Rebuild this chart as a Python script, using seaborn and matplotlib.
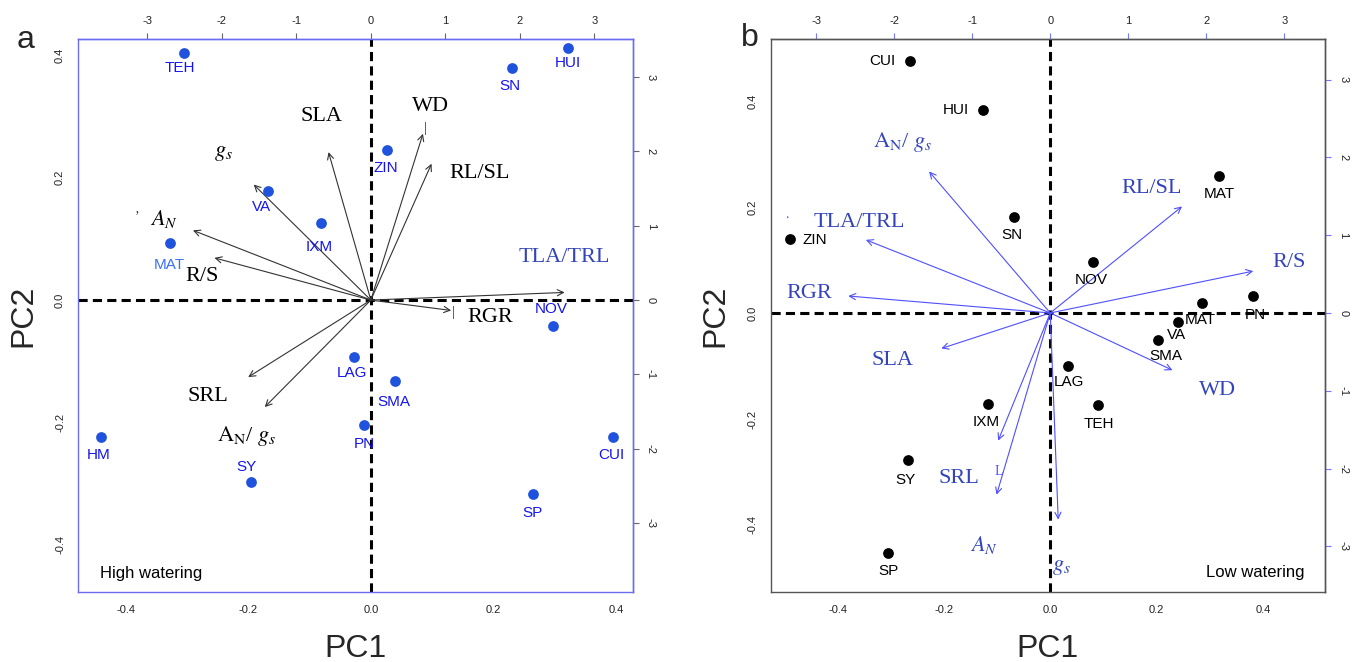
import matplotlib
matplotlib.use("Agg")
import matplotlib.pyplot as plt
import matplotlib.ticker as mticker
import numpy as np
import pandas as pd
import seaborn as sns

# ---------------- data: panel a (High watering) ----------------
a_species = ["TEH", "HUI", "SN", "ZIN", "VA", "IXM", "MAT", "NOV", "LAG", "SMA",
             "PN", "HM", "CUI", "SY", "SP"]
a_pc1 = [-0.304, 0.322, 0.230, 0.026, -0.168, -0.081, -0.328, 0.297, -0.028, 0.039,
         -0.011, -0.440, 0.395, -0.196, 0.265]
a_pc2 = [0.404, 0.413, 0.380, 0.245, 0.179, 0.126, 0.094, -0.042, -0.093, -0.133,
         -0.204, -0.224, -0.224, -0.298, -0.318]
a_traits = ["SLA", "WD", "RL/SL", "gs", "AN", "R/S", "TLA/TRL", "RGR", "SRL", "AN/gs"]
a_load1 = [-0.069, 0.085, 0.099, -0.191, -0.290, -0.255, 0.316, 0.131, -0.200, -0.173]
a_load2 = [0.242, 0.272, 0.223, 0.189, 0.114, 0.069, 0.0125, -0.017, -0.126, -0.175]

# ---------------- data: panel b (Low watering) ----------------
b_species = ["CUI", "HUI", "MAT", "SN", "ZIN", "NOV", "MAT", "PN", "VA", "SMA",
             "LAG", "IXM", "TEH", "SY", "SP"]
b_pc1 = [-0.264, -0.126, 0.317, -0.069, -0.490, 0.080, 0.285, 0.381, 0.240, 0.203,
         0.033, -0.118, 0.090, -0.268, -0.305]
b_pc2 = [0.476, 0.383, 0.258, 0.182, 0.140, 0.096, 0.019, 0.032, -0.017, -0.051,
         -0.100, -0.171, -0.174, -0.278, -0.453]
b_traits = ["AN/gs", "TLA/TRL", "RGR", "RL/SL", "R/S", "SLA", "WD", "SRL", "AN", "gs"]
b_load1 = [-0.228, -0.347, -0.380, 0.248, 0.382, -0.205, 0.230, -0.098, -0.101, 0.015]
b_load2 = [0.267, 0.138, 0.032, 0.201, 0.079, -0.067, -0.108, -0.241, -0.343, -0.390]

axis_ticks = [-0.4, -0.2, 0.0, 0.2, 0.4]
sec_ticks = [-3, -2, -1, 0, 1, 2, 3]

trait_text = {
    "SLA": "SLA", "WD": "WD", "RL/SL": "RL/SL", "R/S": "R/S", "TLA/TRL": "TLA/TRL",
    "RGR": "RGR", "SRL": "SRL", "gs": r"$g_s$", "AN": r"$A_N$",
    "AN/gs": r"$\mathrm{A_N}$/ $g_s$",
}

# ---------------- layout (label positions, data units) ----------------
a_species_lab = [(-0.311, 0.379), (0.322, 0.388), (0.227, 0.350), (0.025, 0.216),
                 (-0.178, 0.153), (-0.085, 0.087), (-0.329, 0.057), (0.294, -0.015),
                 (-0.030, -0.119), (0.038, -0.167), (-0.011, -0.235), (-0.444, -0.253),
                 (0.393, -0.253), (-0.202, -0.273), (0.263, -0.349)]
a_trait_lab = [(-0.080, 0.300), (0.097, 0.317), (0.177, 0.207), (-0.241, 0.239),
               (-0.338, 0.133), (-0.276, 0.039), (0.315, 0.070), (0.195, -0.028),
               (-0.265, -0.158), (-0.203, -0.222)]
b_species_lab = [(-0.315, 0.475), (-0.177, 0.383), (0.318, 0.224), (-0.072, 0.148),
                 (-0.443, 0.138), (0.078, 0.063), (0.283, -0.0125), (0.385, -0.004),
                 (0.237, -0.042), (0.218, -0.082), (0.035, -0.130), (-0.120, -0.205),
                 (0.092, -0.209), (-0.273, -0.316), (-0.305, -0.487)]
b_trait_lab = [(-0.278, 0.322), (-0.360, 0.171), (-0.453, 0.036), (0.190, 0.235),
               (0.450, 0.095), (-0.296, -0.089), (0.314, -0.147), (-0.172, -0.312),
               (-0.125, -0.437), (0.021, -0.481)]
# small stray glyphs present in the original figure
a_marks = [("|", 0.089, 0.281), ("|", 0.134, -0.021), ("\u02bc", -0.381, 0.137)]
b_marks = [(".", -0.496, 0.186), ("L", -0.097, -0.300)]

a_lim = (-0.477, 0.427)
b_lim = (-0.526, 0.517)
a_k = 8.23
b_k = 6.81

sns.set_style("white")
plt.rcParams["font.family"] = ["Liberation Sans", "DejaVu Sans"]
plt.rcParams["mathtext.fontset"] = "stix"

fig = plt.figure(figsize=(13.58, 6.62), dpi=100)
W, H = 1358, 662
axA = fig.add_axes([78.3 / W, 1 - 591.7 / H, (632.7 - 78.3) / W, (591.7 - 39) / H])
axB = fig.add_axes([770.7 / W, 1 - 591.7 / H, (1325 - 770.7) / W, (591.7 - 39) / H])

SERIF = ["Liberation Serif", "DejaVu Serif"]


def setup(ax, lim, k, spine_col, sec_tick_col, tick_col):
    ax.set_xlim(lim)
    ax.set_ylim(lim)
    ax.set_xticks(axis_ticks)
    ax.set_yticks(axis_ticks)
    ax.xaxis.set_major_formatter(mticker.FormatStrFormatter("%.1f"))
    ax.yaxis.set_major_formatter(mticker.FormatStrFormatter("%.1f"))
    for s in ax.spines.values():
        s.set_color(spine_col)
        s.set_linewidth(1.0)
    ax.tick_params(axis="both", direction="out", length=4.5, width=0.8, color=tick_col,
                   labelsize=8, labelcolor="#222222", pad=5)
    plt.setp(ax.get_yticklabels(), rotation=90, va="center")
    ax.axhline(0, color="black", lw=2.2, ls=(0, (3.0, 1.7)), zorder=1)
    ax.axvline(0, color="black", lw=2.2, ls=(0, (3.0, 1.7)), zorder=1)
    secx = ax.secondary_xaxis("top", functions=(lambda x: x * k, lambda x: x / k))
    secy = ax.secondary_yaxis("right", functions=(lambda x: x * k, lambda x: x / k))
    for sec in (secx, secy):
        sec.tick_params(direction="out", length=4.5, width=0.8, color=sec_tick_col,
                        labelsize=8, labelcolor="#222222", pad=5)
        for s in sec.spines.values():
            s.set_color(spine_col)
            s.set_linewidth(1.0)
    secx.set_xticks(sec_ticks)
    secy.set_yticks(sec_ticks)
    secx.xaxis.set_major_formatter(mticker.FormatStrFormatter("%d"))
    secy.yaxis.set_major_formatter(mticker.FormatStrFormatter("%d"))
    plt.setp(secy.get_yticklabels(), rotation=-90, va="center")
    ax.set_xlabel("")
    ax.set_ylabel("")


# ---------------- panel a ----------------
setup(axA, a_lim, a_k, "#6b6bf2", "#666666", "#555555")
dfa = pd.DataFrame({"PC1": a_pc1, "PC2": a_pc2, "sp": a_species})
sns.scatterplot(data=dfa, x="PC1", y="PC2", ax=axA, color="#1f52dd", s=60,
                linewidth=0, zorder=4, legend=False)
for name, (lx, ly) in zip(a_species, a_species_lab):
    col = "#3a70f0" if name == "MAT" else "#1515ee"
    axA.text(lx, ly, name, color=col, fontsize=11, ha="center", va="center", zorder=5)
for t, x1, y1, (lx, ly) in zip(a_traits, a_load1, a_load2, a_trait_lab):
    axA.annotate("", xy=(x1, y1), xytext=(0, 0),
                 arrowprops=dict(arrowstyle="->", lw=0.8, color="#333333",
                                 mutation_scale=11, shrinkA=0, shrinkB=0), zorder=3)
    col = "#3344bb" if t == "TLA/TRL" else "black"
    axA.text(lx, ly, trait_text[t], color=col, fontsize=16, ha="center", va="center",
             family=SERIF, zorder=5)
for g, mx, my in a_marks:
    axA.text(mx, my, g, color="#333333", fontsize=10, ha="center", va="center",
             family=SERIF, zorder=5)
axA.text(-0.442, -0.447, "High watering", fontsize=12, ha="left", va="center", color="black")
axA.set_xlabel("PC1", fontsize=23, labelpad=14)
axA.set_ylabel("PC2", fontsize=23, labelpad=12)

# ---------------- panel b ----------------
setup(axB, b_lim, b_k, "#555555", "#7777ff", "#555555")
dfb = pd.DataFrame({"PC1": b_pc1, "PC2": b_pc2, "sp": b_species})
sns.scatterplot(data=dfb, x="PC1", y="PC2", ax=axB, color="black", s=60,
                linewidth=0, zorder=4, legend=False)
for name, (lx, ly) in zip(b_species, b_species_lab):
    axB.text(lx, ly, name, color="black", fontsize=11, ha="center", va="center", zorder=5)
for t, x1, y1, (lx, ly) in zip(b_traits, b_load1, b_load2, b_trait_lab):
    axB.annotate("", xy=(x1, y1), xytext=(0, 0),
                 arrowprops=dict(arrowstyle="->", lw=0.8, color="#4f4fff",
                                 mutation_scale=11, shrinkA=0, shrinkB=0), zorder=3)
    axB.text(lx, ly, trait_text[t], color="#3344bb", fontsize=16, ha="center",
             va="center", family=SERIF, zorder=5)
for g, mx, my in b_marks:
    axB.text(mx, my, g, color="#4f4fff", fontsize=10, ha="center", va="center",
             family=SERIF, zorder=5)
axB.text(0.479, -0.489, "Low watering", fontsize=12, ha="right", va="center", color="black")
axB.set_xlabel("PC1", fontsize=23, labelpad=14)
axB.set_ylabel("PC2", fontsize=23, labelpad=12)

fig.text(26 / W, 1 - 40 / H, "a", fontsize=23, ha="center", va="center")
fig.text(750 / W, 1 - 38 / H, "b", fontsize=23, ha="center", va="center")

fig.savefig("out.png", dpi=100)
